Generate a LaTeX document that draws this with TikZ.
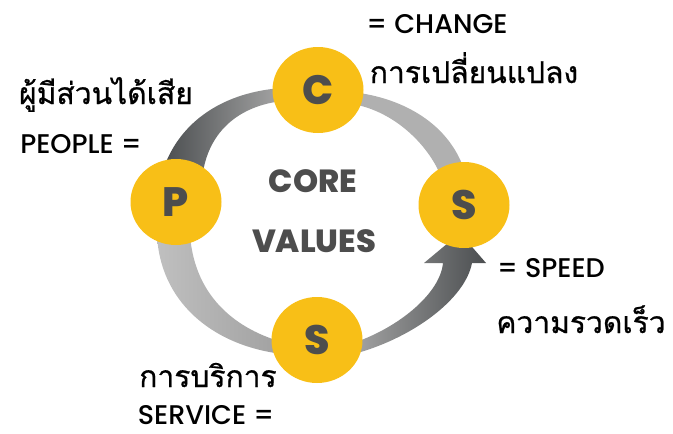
\documentclass[tikz,border=0pt]{standalone}
\usepackage{fontspec}
\setmainfont{Poppins}
\newfontfamily\latfont{Poppins Medium}
\newfontfamily\heavyfont{Poppins ExtraBold}
\newfontfamily\thaifont[Script=Thai,FakeBold=0.7]{Loma}
\usetikzlibrary{shapes.geometric}
\definecolor{gold}{HTML}{F8BF17}
\definecolor{ink}{HTML}{4D4D4D}
\definecolor{darkband}{HTML}{4B4E50}
\definecolor{lightband}{HTML}{B0B0B0}
\tikzset{
  disc/.style={ellipse, fill=gold, minimum width=91pt, minimum height=86pt, inner sep=0pt,
    text=ink, font=\fontsize{41pt}{44pt}\selectfont\heavyfont},
  core/.style={text=ink, font=\fontsize{32pt}{36pt}\selectfont\heavyfont, inner sep=0pt},
  lat/.style={anchor=base, inner sep=0pt, font=\fontsize{27pt}{30pt}\selectfont\latfont},
  thai/.style={anchor=base, inner sep=0pt, font=\fontsize{30pt}{34pt}\selectfont\thaifont},
}
\begin{document}
\begin{tikzpicture}[x=1pt,y=-1pt]
\useasboundingbox (0,0) rectangle (673,434);
% bands
\shade[left color=darkband, right color=black!35]
  (163,170) .. controls (180,120) and (225,92) .. (282,88)
  -- (282,101) .. controls (240,106) and (210,130) .. (203,172) -- cycle;
\fill[lightband]
  (352,92) .. controls (405,98) and (450,125) .. (465,172)
  -- (440,174) .. controls (425,140) and (390,110) .. (352,104) -- cycle;
\shade[left color=black!25, right color=black!37]
  (157,235) .. controls (160,300) and (210,345) .. (282,354)
  -- (282,342) .. controls (240,330) and (195,300) .. (190,235) -- cycle;
\shade[left color=black!35, right color=darkband]
  (350,355) .. controls (410,340) and (465,300) .. (472,263)
  -- (486,263) -- (460,233) -- (424,263) -- (443,263)
  .. controls (440,295) and (395,330) .. (350,344) -- cycle;
% discs
\node[disc] (C) at (318,90) {C};
\node[disc] (SR) at (464,205) {S};
\node[disc] (SB) at (317,340) {S};
\node[disc] (P) at (176,202) {P};
% centre
\node[core] (core) at (313,181) {CORE};
\node[core] (values) at (314,241) {VALUES};
% labels
\node[lat] (change) at (437,33) {= CHANGE};
\node[thai] (changeth) at (474,83) {การเปลี่ยนแปลง};
\node[thai] (peopleth) at (106,104) {ผู้มีส่วนได้เสีย};
\node[lat] (people) at (81,153) {PEOPLE =};
\node[lat] (speed) at (551,277) {= SPEED};
\node[thai] (speedth) at (581,333) {ความรวดเร็ว};
\node[thai] (serviceth) at (208,387) {การบริการ};
\node[lat] (service) at (206,424) {SERVICE =};
\end{tikzpicture}
\end{document}
